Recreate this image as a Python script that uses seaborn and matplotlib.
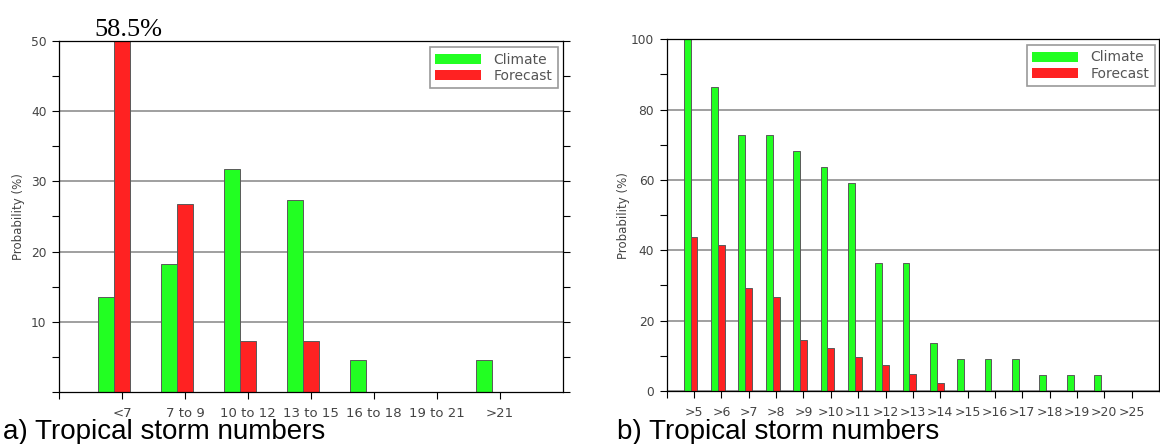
import numpy as np
import pandas as pd
import matplotlib
matplotlib.use("Agg")
import matplotlib.pyplot as plt
from matplotlib.ticker import MultipleLocator
import seaborn as sns

# ---------------- data ----------------
categories_a = ["<7", "7 to 9", "10 to 12", "13 to 15", "16 to 18", "19 to 21", ">21"]
climate_a = [13.6, 18.2, 31.8, 27.3, 4.5, 0.0, 4.5]
forecast_a = [58.5, 26.8, 7.3, 7.3, 0.0, 0.0, 0.0]

categories_b = [">5", ">6", ">7", ">8", ">9", ">10", ">11", ">12", ">13",
                ">14", ">15", ">16", ">17", ">18", ">19", ">20", ">25"]
climate_b = [100.0, 86.4, 72.7, 72.7, 68.2, 63.6, 59.1, 36.4, 36.4,
             13.6, 9.1, 9.1, 9.1, 4.5, 4.5, 4.5, 0.0]
forecast_b = [43.9, 41.5, 29.3, 26.8, 14.6, 12.2, 9.8, 7.3, 4.9,
              2.4, 0.0, 0.0, 0.0, 0.0, 0.0, 0.0, 0.0]

series_names = ["Climate", "Forecast"]
palette = {"Climate": "#22ff22", "Forecast": "#ff2222"}

sns.set_theme(style="white")
plt.rcParams["font.family"] = ["DejaVu Sans"]

TICK_COLOR = "#444444"


def long_df(cats, clim, fc):
    return pd.DataFrame({
        "category": list(cats) * 2,
        "value": list(clim) + list(fc),
        "series": [series_names[0]] * len(cats) + [series_names[1]] * len(cats),
    })


def style_axis(ax, cats, ymax, ymajor, yminor, show_zero, xfs, legend_anchor):
    n = len(cats)
    shift = 0.125  # tick sits under the Forecast bar
    ax.set_ylim(0, ymax)
    ax.set_xlim(-1 + shift, n + shift)
    ticks = [-1 + shift] + [i + shift for i in range(n)]
    ax.set_xticks(ticks)
    ax.set_xticklabels([""] + list(cats), fontsize=xfs, color=TICK_COLOR)
    ax.yaxis.set_major_locator(MultipleLocator(ymajor))
    ax.yaxis.set_minor_locator(MultipleLocator(yminor))
    yt = np.arange(0 if show_zero else ymajor, ymax + 0.01, ymajor)
    ax.set_yticks(yt)
    ax.set_yticklabels([f"{int(v)}" for v in yt], fontsize=8.8, color=TICK_COLOR)
    ax.tick_params(axis="y", which="both", direction="out", left=True, right=True,
                   length=5, width=0.8, color="black", pad=4)
    ax.tick_params(axis="y", which="minor", length=5)
    ax.tick_params(axis="x", direction="out", bottom=True, length=5, width=0.8,
                   color="black", pad=6)
    for s in ["left", "right", "bottom", "top"]:
        ax.spines[s].set_visible(True)
        ax.spines[s].set_color("black")
        ax.spines[s].set_linewidth(0.9)
    ax.yaxis.grid(True, which="major", color="#858585", linewidth=1.1)
    ax.xaxis.grid(False)
    ax.set_axisbelow(True)
    ax.set_xlabel("")
    ax.set_ylabel("Probability (%)", fontsize=8.5, color=TICK_COLOR)
    sns.move_legend(ax, "upper right", bbox_to_anchor=legend_anchor, title=None,
                    frameon=True, fontsize=10, handlelength=3.3, handleheight=0.75,
                    handletextpad=0.9, borderpad=0.4, labelspacing=0.15,
                    fancybox=False, borderaxespad=0)
    leg = ax.get_legend()
    leg.get_frame().set_edgecolor("#808080")
    leg.get_frame().set_linewidth(1.2)
    for t in leg.get_texts():
        t.set_color("#555555")
    for h in leg.legend_handles:
        h.set_edgecolor("none")


fig = plt.figure(figsize=(11.6, 4.44), dpi=100)
ax1 = fig.add_axes([59 / 1160, 52 / 444, 504 / 1160, 351 / 444])
ax2 = fig.add_axes([666.7 / 1160, 53 / 444, 492.3 / 1160, 351.7 / 444])

df_a = long_df(categories_a, climate_a, forecast_a)
df_b = long_df(categories_b, climate_b, forecast_b)

for ax, df in [(ax1, df_a), (ax2, df_b)]:
    sns.barplot(data=df, x="category", y="value", hue="series", hue_order=series_names,
                palette=palette, saturation=1, width=0.5, edgecolor="#5a5a5a",
                linewidth=0.7, ax=ax, errorbar=None)

style_axis(ax1, categories_a, 50, 10, 5, False, 9.5, (0.990, 0.983))
style_axis(ax2, categories_b, 100, 20, 10, True, 9.0, (0.992, 0.984))

ax1.yaxis.set_label_coords(-0.068, 0.5)
ax2.yaxis.set_label_coords(-0.075, 0.5)

# value label for the clipped Forecast bar
ax1.text(0 + 0.23, 50, f"{forecast_a[0]}%", ha="center", va="bottom",
         fontsize=19, family="Liberation Serif", color="black", clip_on=False)

fig.text(3 / 1160, 0.012, "a) Tropical storm numbers", fontsize=20,
         family="Liberation Sans", color="black", va="baseline", ha="left")
fig.text(617 / 1160, 0.012, "b) Tropical storm numbers", fontsize=20,
         family="Liberation Sans", color="black", va="baseline", ha="left")

fig.savefig("out.png", dpi=100)
